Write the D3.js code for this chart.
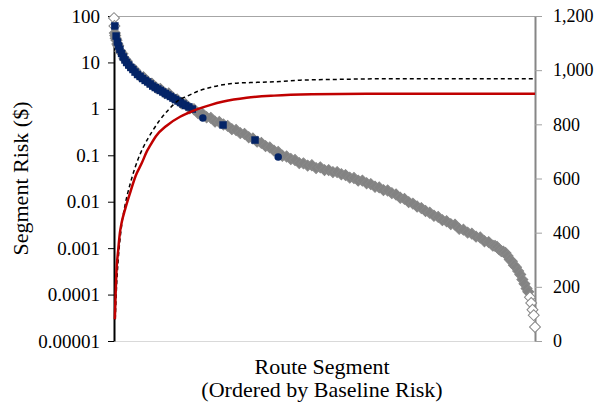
<!DOCTYPE html>
<html>
<head>
<meta charset="utf-8">
<script src="https://cdn.jsdelivr.net/npm/d3@7"></script>
</head>
<body style="margin:0">
<svg id="chart" width="598" height="406"></svg>
<script>
// Baseline risk per route segment, segments ranked from highest to lowest risk (rank 0..1000)
const baselineRank = [0,1,2,3,4,6,8,10,15,20,25,30,40,50,60,70,80,90,100,110,120,130,140,150,160,170,180,190,200,
  210,220,230,240,250,260,270,280,290,300,310,320,330,340,350,360,370,380,390,400,410,420,430,440,450,460,470,480,490,500,
  510,520,530,540,550,560,570,580,590,600,610,620,630,640,650,660,670,680,690,700,710,720,730,740,750,760,770,780,790,800,
  810,820,830,840,850,860,870,880,890,900,905,910,915,920,925,930,935,940,945,950,955,960,965,970,975,980,984,988,991,994,997,1000];
const baselineRisk = [90,61,43,38,33,30,25,23,17.5,15.3,12,10.8,8.0,6.8,5.2,4.8,3.9,3.5,2.85,2.7,2.2,2.15,1.75,1.6,1.32,1.26,1.03,0.98,0.8,
  0.79,0.66,0.64,0.53,0.52,0.46,0.43,0.365,0.35,0.30,0.29,0.245,0.23,0.197,0.185,0.158,0.148,0.126,0.118,0.098,0.094,0.083,0.079,0.068,0.067,0.060,0.061,0.053,0.055,0.048,
  0.048,0.0435,0.0435,0.039,0.0375,0.033,0.0325,0.0285,0.0285,0.025,0.024,0.021,0.0203,0.0178,0.0174,0.0153,0.0143,0.0122,0.0115,0.0098,0.0091,0.0079,0.0073,0.0063,0.0058,0.0050,0.0047,0.0040,0.0038,0.0033,
  0.0032,0.0026,0.0025,0.00216,0.00205,0.00177,0.0017,0.00141,0.00135,0.00113,0.00112,0.00106,0.00094,0.00086,0.00084,0.00079,0.00068,0.00057,0.00052,0.00043,0.00039,0.00032,0.00027,0.00021,0.00017,0.000135,0.000115,0.000088,0.000066,0.000047,0.000036,0.00002];

// Segments along the selected route (squares) and the alternate route (circles)
const squareRank = [2,5,8,11,14,18,22,26,30,35,40,45,50,56,62,68,74,80,86,92,98,104,110,116,122,128,134,140,146,152,158,164,170,178,186,259,335];
const squareRisk = [61,37,27.5,22.6,19,15.6,13.1,11.3,9.96,8.8,7.8,7.05,6.2,5.5,5.0,4.5,4.1,3.8,3.43,3.1,2.88,2.68,2.49,2.31,2.14,1.99,1.85,1.71,1.59,1.48,1.37,1.27,1.18,1.1,0.99,0.449,0.213];
const circleRank = [211,390];
const circleRisk = [0.635,0.092];

// Cumulative risk captured (right axis)
const cumRank = [2,6,10,14,18,26,38,52,66,78,86,100,125,157,173,200,228,260,315,380,470,600,800,1000];
const cumRisk = [80,262,336,399,436,484,546,612,657,700,722,757,795,828,840,857,871,884,898,906,911,913,913,913];
const cumAltRank = [3,6,10,18,26,38,50,62,70,90,109,130,150,175,204,236,283,340,394,442,530,632,800,1000];
const cumAltRisk = [80,200,300,425,500,578,640,690,717,772,816,855,885,905,925,939,951,955,958,963,966,968,968,968];

const leftTicks = [1e-5,1e-4,1e-3,1e-2,1e-1,1,10,100];
const leftTickLabels = ["0.00001","0.0001","0.001","0.01","0.1","1","10","100"];
const rightTicks = [0,200,400,600,800,1000,1200];

const serif = "\"Liberation Serif\"";

const svg = d3.select("#chart").style("font-family", serif);
const x = d3.scaleLinear().domain([0, 1000]).range([114, 535]);
const yL = d3.scaleLog().domain([1e-5, 100]).range([341, 16]);
const yR = d3.scaleLinear().domain([0, 1200]).range([341, 16]);

// plot frame lines
svg.append("line").attr("x1", 108).attr("x2", 535).attr("y1", 16.5).attr("y2", 16.5)
  .attr("stroke", "#a6a6a6").attr("stroke-width", 1);
svg.append("line").attr("x1", 114).attr("x2", 535).attr("y1", 341.5).attr("y2", 341.5)
  .attr("stroke", "#d9d9d9").attr("stroke-width", 1);

// left (log) axis
const gL = svg.append("g").attr("transform", "translate(114,0)")
  .call(d3.axisLeft(yL).tickValues(leftTicks).tickFormat((d, i) => leftTickLabels[i])
    .tickSize(6).tickSizeOuter(0).tickPadding(8));
gL.attr("font-family", null).attr("font-size", null);
gL.select(".domain").attr("stroke", "#000").attr("stroke-width", 2);
gL.selectAll(".tick line").attr("stroke", "#000");
gL.selectAll(".tick text").style("font-family", serif).style("font-size", "19px").attr("fill", "#000");

// right (cumulative) axis
const gR = svg.append("g").attr("transform", "translate(535,0)")
  .call(d3.axisRight(yR).tickValues(rightTicks).tickFormat(d3.format(","))
    .tickSize(7).tickSizeOuter(0).tickPadding(11));
gR.attr("font-family", null).attr("font-size", null);
gR.select(".domain").attr("stroke", "#868686").attr("stroke-width", 2);
gR.selectAll(".tick line").attr("stroke", "#a0a0a0");
gR.selectAll(".tick text").style("font-family", serif).style("font-size", "18px").attr("fill", "#000");

// baseline markers: open diamonds that merge into a solid band where they crowd together
const base = baselineRank.map((r, i) => ({ px: x(r), py: yL(baselineRisk[i]) }));
base.forEach((d, i) => {
  const p = base[i - 1], n = base[i + 1];
  const gp = p ? Math.hypot(d.px - p.px, d.py - p.py) : Infinity;
  const gn = n ? Math.hypot(d.px - n.px, d.py - n.py) : Infinity;
  d.gap = Math.min(gp, gn);
});
const diamond = d3.symbol().type(d3.symbolSquare).size(60);
svg.append("g").selectAll("path").data(base).join("path")
  .attr("d", diamond)
  .attr("transform", d => `translate(${d.px},${d.py}) rotate(45)`)
  .attr("fill", d => d.gap > 5.4 ? "#fff" : "#838383")
  .attr("stroke", "#888")
  .attr("stroke-width", 1);

// selected-route segments
const navy = "#042467";
svg.append("g").selectAll("path").data(squareRank).join("path")
  .attr("d", d3.symbol().type(d3.symbolSquare).size(56))
  .attr("transform", (r, i) => `translate(${x(r)},${yL(squareRisk[i])})`)
  .attr("fill", navy);
svg.append("g").selectAll("path").data(circleRank).join("path")
  .attr("d", d3.symbol().type(d3.symbolCircle).size(44))
  .attr("transform", (r, i) => `translate(${x(r)},${yL(circleRisk[i])})`)
  .attr("fill", navy);

// cumulative curves
const line = d3.line().x(d => x(d[0])).y(d => yR(d[1])).curve(d3.curveMonotoneX);
svg.append("path").datum(cumAltRank.map((r, i) => [r, cumAltRisk[i]]))
  .attr("d", line).attr("fill", "none").attr("stroke", "#000")
  .attr("stroke-width", 1.5).attr("stroke-dasharray", "4,3");
svg.append("path").datum(cumRank.map((r, i) => [r, cumRisk[i]]))
  .attr("d", line).attr("fill", "none").attr("stroke", "#c00000")
  .attr("stroke-width", 2.5);

// axis titles
const titles = [
  { text: "Segment Risk ($)", tf: "translate(28,178.5) rotate(-90)" },
  { text: "Route Segment", tf: "translate(322,374)" },
  { text: "(Ordered by Baseline Risk)", tf: "translate(322,397)" }
];
svg.selectAll("text.title").data(titles).join("text")
  .attr("class", "title")
  .attr("transform", d => d.tf)
  .attr("text-anchor", "middle")
  .style("font-family", serif)
  .style("font-size", "22px")
  .text(d => d.text);
</script>
</body>
</html>
